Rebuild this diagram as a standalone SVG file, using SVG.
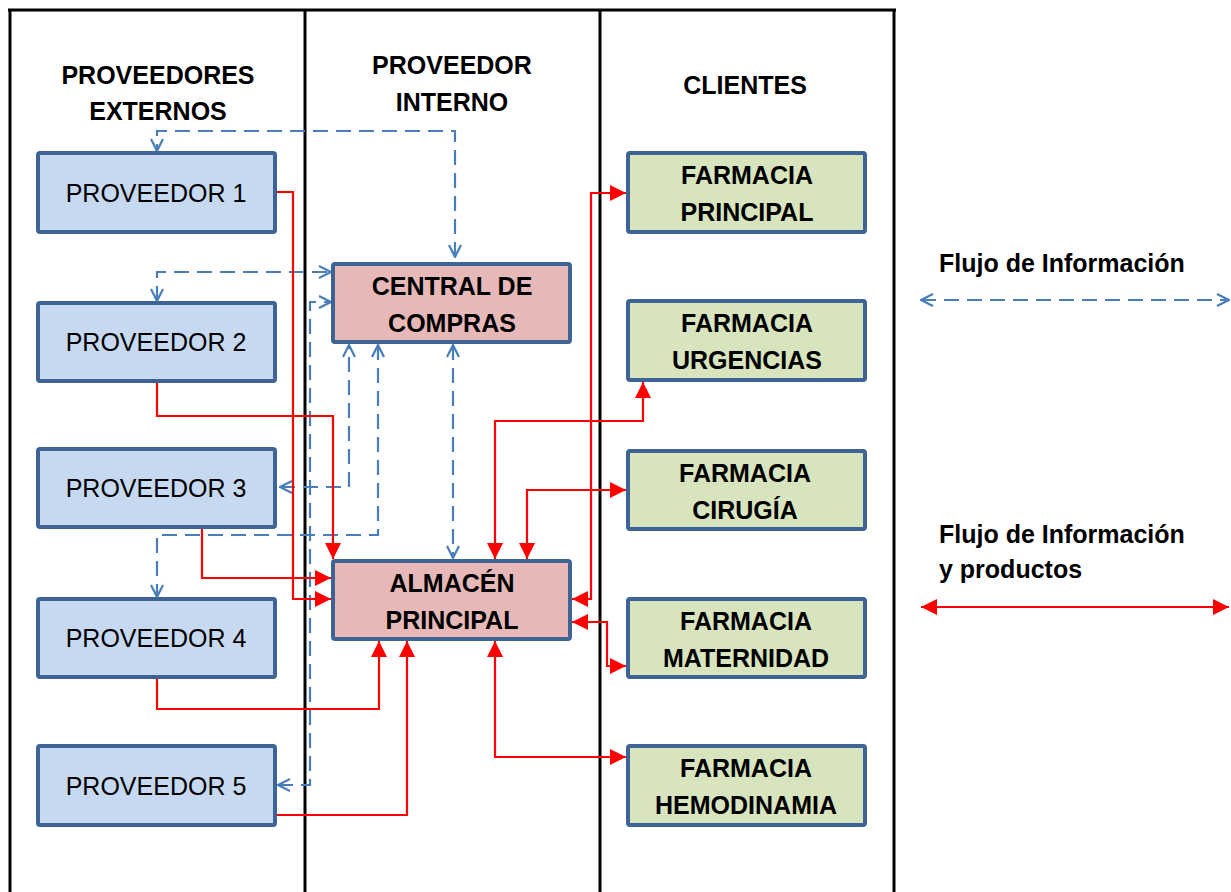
<svg xmlns="http://www.w3.org/2000/svg" width="1231" height="892" viewBox="0 0 1231 892">
  <style>
    .frame { stroke: #000; stroke-width: 3; fill: none; }
    .box { stroke: #3e6496; stroke-width: 4; }
    .ext { fill: #c6d9f1; }
    .int { fill: #e6b9b8; }
    .cli { fill: #d7e4bd; }
    .lbl { font-family: "Liberation Sans", Arial, sans-serif; font-size: 25px; fill: #000; text-anchor: middle; }
    .b { font-weight: bold; }
    .hdr { font-family: "Liberation Sans", Arial, sans-serif; font-size: 25px; font-weight: bold; fill: #000; text-anchor: middle; }
    .leg { font-family: "Liberation Sans", Arial, sans-serif; font-size: 25px; font-weight: bold; fill: #000; }
    .info { fill: none; stroke: #4a7ebb; stroke-width: 2.2; stroke-dasharray: 15 8; marker-start: url(#bArrow); marker-end: url(#bArrow); }
    .prod { fill: none; stroke: #ff0000; stroke-width: 2.2; marker-end: url(#rArrow); }
    .prod2 { fill: none; stroke: #ff0000; stroke-width: 2.2; marker-start: url(#rArrow); marker-end: url(#rArrow); }
  </style>
  <defs>
    <marker id="rArrow" viewBox="0 0 16 16" refX="16" refY="8" markerWidth="16" markerHeight="16" markerUnits="userSpaceOnUse" orient="auto-start-reverse">
      <path d="M0,0 L16,8 L0,16 Z" fill="#ff0000"/>
    </marker>
    <marker id="bArrow" viewBox="0 0 14 14" refX="13" refY="7" markerWidth="14" markerHeight="14" markerUnits="userSpaceOnUse" orient="auto-start-reverse">
      <path d="M1,1 L13,7 L1,13" fill="none" stroke="#4a7ebb" stroke-width="2.2"/>
    </marker>
  </defs>

  <rect width="1231" height="892" fill="#fff"/>

  <!-- swimlane frame -->
  <g id="lanes">
    <line class="frame" x1="8" y1="10" x2="896" y2="10" stroke-width="4"/>
    <line class="frame" x1="10" y1="10" x2="10" y2="892"/>
    <line class="frame" x1="305" y1="10" x2="305" y2="892"/>
    <line class="frame" x1="600" y1="10" x2="600" y2="892"/>
    <line class="frame" x1="894" y1="10" x2="894" y2="892"/>
    <text class="hdr" x="158" y="84">PROVEEDORES</text>
    <text class="hdr" x="158" y="120">EXTERNOS</text>
    <text class="hdr" x="452" y="74">PROVEEDOR</text>
    <text class="hdr" x="452" y="111">INTERNO</text>
    <text class="hdr" x="745" y="94">CLIENTES</text>
  </g>

  <!-- connectors -->
  <g id="connectors">
    <!-- information flow -->
    <path class="info" d="M455,257 L455,131 L157,131 L157,151"/>
    <path class="info" d="M157,301 L157,272 L331,272"/>
    <path class="info" d="M278,785 L310,785 L310,302 L331,302"/>
    <path class="info" d="M280,487 L349,487 L349,345"/>
    <path class="info" d="M378,345 L378,535 L157,535 L157,597"/>
    <path class="info" d="M453,345 L453,558"/>
    <!-- products from suppliers -->
    <path class="prod" d="M275,192 L293,192 L293,599 L331,599"/>
    <path class="prod" d="M157,381 L157,416 L333,416 L333,559"/>
    <path class="prod" d="M202,527 L202,578 L331,578"/>
    <path class="prod" d="M157,677 L157,709 L379,709 L379,641"/>
    <path class="prod" d="M275,815 L407,815 L407,641"/>
    <!-- products to pharmacies -->
    <path class="prod2" d="M572,599 L591,599 L591,193 L626,193"/>
    <path class="prod2" d="M495,559 L495,421 L643,421 L643,382"/>
    <path class="prod2" d="M527,559 L527,490 L626,490"/>
    <path class="prod2" d="M572,622 L607,622 L607,666 L626,666"/>
    <path class="prod2" d="M495,641 L495,757 L626,757"/>
  </g>

  <!-- external suppliers -->
  <g id="proveedor1"><rect class="box ext" x="38" y="153" width="237" height="79" rx="2"/><text class="lbl" x="156" y="202">PROVEEDOR 1</text></g>
  <g id="proveedor2"><rect class="box ext" x="38" y="303" width="237" height="78" rx="2"/><text class="lbl" x="156" y="351">PROVEEDOR 2</text></g>
  <g id="proveedor3"><rect class="box ext" x="38" y="449" width="237" height="78" rx="2"/><text class="lbl" x="156" y="497">PROVEEDOR 3</text></g>
  <g id="proveedor4"><rect class="box ext" x="38" y="599" width="237" height="78" rx="2"/><text class="lbl" x="156" y="647">PROVEEDOR 4</text></g>
  <g id="proveedor5"><rect class="box ext" x="38" y="746" width="237" height="79" rx="2"/><text class="lbl" x="156" y="795">PROVEEDOR 5</text></g>

  <!-- internal supplier -->
  <g id="central-compras"><rect class="box int" x="333" y="264" width="237" height="78" rx="2"/><text class="lbl b" x="452" y="295">CENTRAL DE</text><text class="lbl b" x="452" y="332">COMPRAS</text></g>
  <g id="almacen-principal"><rect class="box int" x="333" y="561" width="237" height="78" rx="2"/><text class="lbl b" x="452" y="592">ALMACÉN</text><text class="lbl b" x="452" y="629">PRINCIPAL</text></g>

  <!-- clients -->
  <g id="farmacia-principal"><rect class="box cli" x="628" y="153" width="237" height="79" rx="2"/><text class="lbl b" x="747" y="184">FARMACIA</text><text class="lbl b" x="747" y="221">PRINCIPAL</text></g>
  <g id="farmacia-urgencias"><rect class="box cli" x="628" y="301" width="237" height="79" rx="2"/><text class="lbl b" x="747" y="332">FARMACIA</text><text class="lbl b" x="747" y="369">URGENCIAS</text></g>
  <g id="farmacia-cirugia"><rect class="box cli" x="628" y="451" width="237" height="78" rx="2"/><text class="lbl b" x="745" y="482">FARMACIA</text><text class="lbl b" x="745" y="519">CIRUGÍA</text></g>
  <g id="farmacia-maternidad"><rect class="box cli" x="628" y="599" width="237" height="78" rx="2"/><text class="lbl b" x="746" y="630">FARMACIA</text><text class="lbl b" x="746" y="667">MATERNIDAD</text></g>
  <g id="farmacia-hemodinamia"><rect class="box cli" x="628" y="746" width="237" height="79" rx="2"/><text class="lbl b" x="746" y="777">FARMACIA</text><text class="lbl b" x="746" y="814">HEMODINAMIA</text></g>

  <!-- legend -->
  <g id="legend">
    <text class="leg" x="939" y="272">Flujo de Información</text>
    <line class="info" x1="921" y1="300" x2="1229" y2="300"/>
    <text class="leg" x="939" y="543">Flujo de Información</text>
    <text class="leg" x="939" y="578">y productos</text>
    <line class="prod2" x1="921" y1="607" x2="1229" y2="607"/>
  </g>
</svg>
